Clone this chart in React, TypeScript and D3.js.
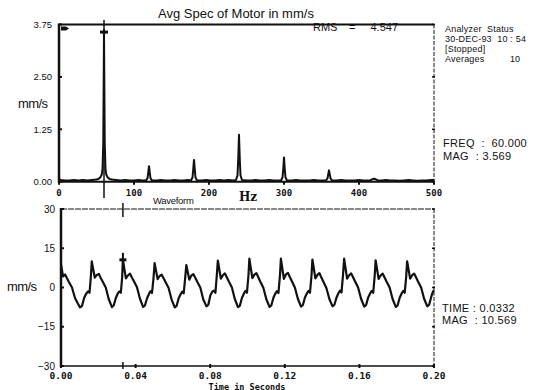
import React from "react";
import * as d3 from "d3";

// ---------- Spectrum data (Hz, mm/s) ----------
const specFreq = [
  0, 3, 8, 14, 20, 26, 32, 38, 44, 50, 53, 55, 57, 58, 59, 59.5, 60, 60.5, 61, 62, 63, 65, 67, 70,
  76, 82, 88, 94, 100, 106, 112, 116, 118, 119, 120, 121, 122, 124,
  130, 136, 142, 148, 154, 160, 166, 172, 176, 178, 179, 180, 181, 182, 184,
  190, 196, 202, 208, 214, 220, 226, 232, 236, 238, 239, 240, 241, 242, 244,
  250, 256, 262, 268, 274, 280, 286, 292, 296, 298, 299, 300, 301, 302, 304,
  310, 316, 322, 328, 334, 340, 346, 352, 356, 358, 359, 360, 361, 362, 364,
  370, 376, 382, 388, 394, 400, 406, 412, 415, 418, 420, 422, 425,
  430, 436, 442, 448, 454, 460, 466, 472, 478, 484, 490, 496, 500,
];
const specMag = [
  0.05, 0.04, 0.03, 0.03, 0.04, 0.03, 0.04, 0.03, 0.04, 0.05, 0.07, 0.1, 0.17, 0.3, 0.9, 2.2, 3.62, 2.2, 0.9, 0.3, 0.17, 0.1, 0.07, 0.05,
  0.04, 0.03, 0.04, 0.03, 0.03, 0.04, 0.03, 0.03, 0.08, 0.22, 0.37, 0.22, 0.08, 0.03,
  0.03, 0.04, 0.03, 0.03, 0.04, 0.03, 0.03, 0.04, 0.03, 0.1, 0.3, 0.52, 0.3, 0.1, 0.03,
  0.03, 0.04, 0.03, 0.03, 0.04, 0.03, 0.04, 0.03, 0.04, 0.15, 0.55, 1.12, 0.55, 0.15, 0.04,
  0.03, 0.03, 0.04, 0.03, 0.03, 0.04, 0.03, 0.03, 0.03, 0.1, 0.3, 0.58, 0.3, 0.1, 0.03,
  0.03, 0.04, 0.03, 0.03, 0.03, 0.04, 0.03, 0.03, 0.03, 0.08, 0.18, 0.27, 0.18, 0.08, 0.03,
  0.03, 0.04, 0.03, 0.03, 0.03, 0.04, 0.03, 0.03, 0.03, 0.06, 0.07, 0.06, 0.03,
  0.03, 0.04, 0.03, 0.03, 0.02, 0.03, 0.04, 0.03, 0.02, 0.03, 0.03, 0.04, 0.04,
];

// ---------- Waveform data (s, mm/s) ----------
const waveTime = [
  0.0, 0.0011, 0.0022, 0.0032, 0.0043, 0.0059, 0.0075, 0.0091, 0.0102, 0.0113, 0.0124, 0.0134, 0.0145, 0.0153, 0.016,
  0.0165, 0.0181, 0.0192, 0.0203, 0.0213, 0.0224, 0.024, 0.0256, 0.0273, 0.0283, 0.0294, 0.0305, 0.0313, 0.0321, 0.0328,
  0.0332, 0.0348, 0.0359, 0.037, 0.038, 0.0391, 0.0407, 0.0423, 0.044, 0.045, 0.0461, 0.0472, 0.048, 0.0488, 0.0496,
  0.0502, 0.0518, 0.0529, 0.054, 0.055, 0.0561, 0.0577, 0.0593, 0.061, 0.062, 0.0631, 0.0642, 0.065, 0.0658, 0.0666,
  0.0672, 0.0688, 0.0699, 0.071, 0.072, 0.0731, 0.0747, 0.0763, 0.078, 0.079, 0.0801, 0.0812, 0.082, 0.0828, 0.0836,
  0.0841, 0.0857, 0.0868, 0.0879, 0.0889, 0.09, 0.0916, 0.0932, 0.0949, 0.0959, 0.097, 0.0981, 0.0989, 0.0997, 0.1005,
  0.101, 0.1026, 0.1037, 0.1048, 0.1058, 0.1069, 0.1085, 0.1101, 0.1118, 0.1128, 0.1139, 0.115, 0.1158, 0.1166, 0.1174,
  0.1179, 0.1195, 0.1206, 0.1217, 0.1227, 0.1238, 0.1254, 0.127, 0.1287, 0.1297, 0.1308, 0.1319, 0.1327, 0.1335, 0.1343,
  0.1348, 0.1364, 0.1375, 0.1386, 0.1396, 0.1407, 0.1423, 0.1439, 0.1456, 0.1466, 0.1477, 0.1488, 0.1496, 0.1504, 0.1512,
  0.1518, 0.1534, 0.1545, 0.1556, 0.1566, 0.1577, 0.1593, 0.1609, 0.1626, 0.1636, 0.1647, 0.1658, 0.1666, 0.1674, 0.1682,
  0.1687, 0.1703, 0.1714, 0.1725, 0.1735, 0.1746, 0.1762, 0.1778, 0.1795, 0.1805, 0.1816, 0.1827, 0.1835, 0.1843, 0.1851,
  0.1856, 0.1872, 0.1883, 0.1894, 0.1904, 0.1915, 0.1931, 0.1947, 0.1964, 0.1974, 0.1985, 0.1993, 0.2,
];
const waveMag = [
  8.8, 4.2, 5.0, 3.5, 2.0, 0.0, -4.0, -6.2, -7.6, -7.0, -4.0, -2.5, -1.5, -2.0, 4.0,
  10.0, 3.8, 4.8, 5.2, 3.6, 2.2, 0.0, -4.5, -7.5, -6.8, -4.0, -2.2, -1.5, -2.0, 4.0,
  10.57, 3.5, 4.6, 5.3, 3.8, 2.4, 0.2, -4.2, -7.4, -6.9, -4.2, -2.4, -1.4, -2.1, 3.5,
  9.3, 3.2, 4.4, 4.9, 3.5, 2.0, -0.2, -4.6, -7.6, -7.0, -4.1, -2.5, -1.6, -2.2, 3.8,
  8.6, 3.0, 4.6, 5.1, 3.7, 2.1, 0.0, -4.6, -7.2, -6.6, -3.0, -1.5, -1.2, -2.0, 5.2,
  10.3, 3.4, 4.7, 5.4, 3.9, 2.3, 0.1, -4.4, -7.5, -7.0, -4.0, -2.3, -1.3, -2.0, 4.5,
  11.0, 3.6, 4.9, 5.5, 3.9, 2.2, -0.1, -4.5, -7.4, -6.8, -3.9, -2.2, -1.4, -2.1, 4.6,
  11.0, 3.3, 5.0, 5.6, 4.0, 2.4, 0.0, -4.3, -7.3, -6.7, -3.8, -2.2, -1.3, -2.0, 4.4,
  10.7, 3.5, 4.8, 5.5, 3.8, 2.2, -0.2, -4.4, -7.2, -6.6, -3.9, -2.1, -1.2, -1.9, 4.6,
  11.0, 3.4, 4.7, 5.4, 3.9, 2.3, 0.0, -4.3, -7.3, -6.7, -3.8, -2.2, -1.3, -2.0, 4.4,
  10.4, 3.3, 4.6, 5.3, 3.8, 2.2, 0.0, -4.4, -7.4, -6.8, -3.9, -2.2, -1.3, -2.0, 4.2,
  10.0, 3.4, 4.7, 5.3, 3.8, 2.2, 0.0, -4.3, -7.2, -6.6, -3.6, -1.8, -1.0, -1.8,
];

// ---------- Axis ticks ----------
const specYTicks = [0, 1.25, 2.5, 3.75];
const specYLabels = ["0.00", "1.25", "2.50", "3.75"];
const specXTicks = [0, 100, 200, 300, 400, 500];
const waveYTicks = [-30, -15, 0, 15, 30];
const waveXTicks = [0, 0.04, 0.08, 0.12, 0.16, 0.2];
const waveXLabels = ["0.00", "0.04", "0.08", "0.12", "0.16", "0.20"];

// ---------- Cursor readouts ----------
const cursorFreq = 60;
const cursorFreqMag = 3.569;
const cursorTime = 0.0332;
const cursorTimeMag = 10.569;

const SANS = "'Liberation Sans', Arial, sans-serif";
const MONO = "'DejaVu Sans Mono', monospace";
const PRE: React.CSSProperties = { whiteSpace: "pre" };

export default function App() {
  const xF = d3.scaleLinear().domain([0, 500]).range([59, 434]);
  const yF = d3.scaleLinear().domain([0, 3.75]).range([181.7, 24.5]);
  const xT = d3.scaleLinear().domain([0, 0.2]).range([61, 434]);
  const yW = d3.scaleLinear().domain([-30, 30]).range([366, 209]);

  const specLine = d3
    .line<number>()
    .x((_, i) => xF(specFreq[i]))
    .y((_, i) => yF(specMag[i]));
  const waveLine = d3
    .line<number>()
    .x((_, i) => xT(waveTime[i]))
    .y((_, i) => yW(waveMag[i]));

  const cfx = xF(cursorFreq);
  const cfy = yF(cursorFreqMag);
  const ctx = xT(cursorTime);
  const cty = yW(cursorTimeMag);

  const [fx0, fx1] = xF.range();
  const fy0 = yF(0), fy1 = yF(3.75);
  const [tx0, tx1] = xT.range();
  const wy0 = yW(-30), wy1 = yW(30);

  return (
    <svg
      width={543}
      height={390}
      style={{ position: "absolute", left: 0, top: 0, background: "#fff" }}
    >
      <rect x={0} y={0} width={543} height={390} fill="#fff" />

      {/* ===== Spectrum panel ===== */}
      <text x={236} y={18} fontFamily={SANS} fontSize={13} textAnchor="middle" fill="#111">
        Avg Spec of Motor in mm/s
      </text>
      <text x={313} y={31} fontFamily={SANS} fontSize={11} fill="#111">RMS</text>
      <text x={349} y={31} fontFamily={SANS} fontSize={11} fill="#111">=</text>
      <text x={398} y={31} fontFamily={SANS} fontSize={11} textAnchor="end" fill="#111">4.547</text>

      {/* frame */}
      <line x1={fx0} y1={fy1} x2={fx1} y2={fy1} stroke="#111" strokeWidth={2} />
      <line x1={fx1} y1={fy1} x2={fx1} y2={fy0} stroke="#111" strokeWidth={1} strokeDasharray="4,1.5" />
      <line x1={fx0} y1={fy1 - 1} x2={fx0} y2={fy0 + 1} stroke="#111" strokeWidth={2.5} />
      <line x1={fx0 - 1} y1={fy0} x2={fx1 + 1} y2={fy0} stroke="#111" strokeWidth={2} />

      {/* top-left glyph */}
      <path d={`M${fx0 + 2},${fy1 + 2} h5 l3,2 l-3,2 h-5 z`} fill="#111" />

      {/* y ticks */}
      {specYTicks.map((v, i) => (
        <g key={"sy" + i}>
          <line x1={fx0} x2={fx0 + 3} y1={yF(v)} y2={yF(v)} stroke="#111" strokeWidth={2} />
          <line x1={fx1 - 2} x2={fx1 + 1} y1={yF(v)} y2={yF(v)} stroke="#111" strokeWidth={1.5} />
          <text x={52} y={yF(v) + 3.5} fontFamily={SANS} fontSize={9.5} textAnchor="end" fill="#111">
            {specYLabels[i]}
          </text>
        </g>
      ))}
      {specXTicks.map((v, i) => (
        <g key={"sx" + i}>
          <line x1={xF(v)} x2={xF(v)} y1={fy0} y2={fy0 + 3} stroke="#111" strokeWidth={2} />
          <text x={xF(v)} y={196} fontFamily={MONO} fontWeight="bold" fontSize={9} textAnchor="middle" fill="#111">
            {v}
          </text>
        </g>
      ))}
      <text x={18} y={108} fontFamily={SANS} fontSize={13} fill="#111" letterSpacing={-0.6}>mm/s</text>
      <text x={239} y={201} fontFamily="'DejaVu Serif', serif" fontWeight="bold" fontSize={12} fill="#111">Hz</text>

      {/* spectrum line */}
      <path d={specLine(specFreq) || ""} fill="none" stroke="#111" strokeWidth={2} strokeLinejoin="round" />

      {/* cursor */}
      <line x1={cfx} x2={cfx} y1={20} y2={198} stroke="#111" strokeWidth={1.5} />
      <line x1={cfx - 4} x2={cfx + 4} y1={cfy} y2={cfy} stroke="#111" strokeWidth={3} />

      {/* right status text */}
      <g fontFamily={SANS} fontSize={9} fill="#111">
        <text x={445} y={32} style={PRE} letterSpacing={0.2}>{"Analyzer  Status"}</text>
        <text x={445} y={42} style={PRE} letterSpacing={0.2}>{"30-DEC-93  10 : 54"}</text>
        <text x={445} y={52} letterSpacing={0.2}>[Stopped]</text>
        <text x={445} y={62} letterSpacing={0.2}>Averages</text>
        <text x={510} y={62}>10</text>
      </g>
      <g fontFamily={SANS} fontSize={11} fill="#111">
        <text x={443} y={147} style={PRE} letterSpacing={0.3}>{`FREQ  :  ${cursorFreq.toFixed(3)}`}</text>
        <text x={443} y={159.5} style={PRE} letterSpacing={0.3}>{`MAG  : ${cursorFreqMag.toFixed(3)}`}</text>
      </g>

      {/* ===== Waveform panel ===== */}
      <text x={153} y={204} fontFamily={SANS} fontSize={9.5} fill="#111" letterSpacing={-0.3}>Waveform</text>

      <line x1={tx0} y1={wy1} x2={tx1} y2={wy1} stroke="#111" strokeWidth={1.2} strokeDasharray="6,1" />
      <line x1={tx1} y1={wy1} x2={tx1} y2={wy0} stroke="#111" strokeWidth={1} strokeDasharray="4,1.5" />
      <line x1={tx0} y1={wy1 - 1} x2={tx0} y2={wy0 + 1} stroke="#111" strokeWidth={2.5} />
      <line x1={tx0 - 1} y1={wy0} x2={tx1 + 1} y2={wy0} stroke="#111" strokeWidth={1.5} />

      {waveYTicks.map((v, i) => (
        <g key={"wy" + i}>
          <line x1={tx0} x2={tx0 + 3} y1={yW(v)} y2={yW(v)} stroke="#111" strokeWidth={2} />
          <line x1={tx1 - 2} x2={tx1 + 1} y1={yW(v)} y2={yW(v)} stroke="#111" strokeWidth={1.5} />
          <text x={55} y={yW(v) + 3.5} fontFamily={SANS} fontSize={10} textAnchor="end" fill="#111">
            {v < 0 ? "\u2212" + Math.abs(v) : String(v)}
          </text>
        </g>
      ))}
      {waveXTicks.map((v, i) => (
        <g key={"wx" + i}>
          <line x1={xT(v)} x2={xT(v)} y1={wy0 - 2} y2={wy0 + 2} stroke="#111" strokeWidth={2} />
          <text x={xT(v)} y={379} fontFamily={MONO} fontWeight="bold" fontSize={9.5} textAnchor="middle" fill="#111">
            {waveXLabels[i]}
          </text>
        </g>
      ))}
      <text x={247} y={389.5} fontFamily={MONO} fontWeight="bold" fontSize={8.5} textAnchor="middle" fill="#111">
        Time in Seconds
      </text>
      <text x={7} y={291} fontFamily={SANS} fontSize={13} fill="#111" letterSpacing={-0.6}>mm/s</text>

      {/* waveform line */}
      <path d={waveLine(waveTime) || ""} fill="none" stroke="#111" strokeWidth={2.2} strokeLinejoin="round" />

      {/* cursor */}
      <line x1={ctx} x2={ctx} y1={203} y2={217} stroke="#111" strokeWidth={1.5} />
      <line x1={ctx} x2={ctx} y1={362} y2={369} stroke="#111" strokeWidth={1.5} />
      <line x1={ctx} x2={ctx} y1={cty - 7} y2={cty + 8} stroke="#111" strokeWidth={2} />
      <line x1={ctx - 3.5} x2={ctx + 3.5} y1={cty} y2={cty} stroke="#111" strokeWidth={3} />

      <g fontFamily={SANS} fontSize={11} fill="#111">
        <text x={442} y={311.5} style={PRE} letterSpacing={0.3}>{`TIME : ${cursorTime.toFixed(4)}`}</text>
        <text x={442} y={324} style={PRE} letterSpacing={0.3}>{`MAG  : ${cursorTimeMag.toFixed(3)}`}</text>
      </g>
    </svg>
  );
}
